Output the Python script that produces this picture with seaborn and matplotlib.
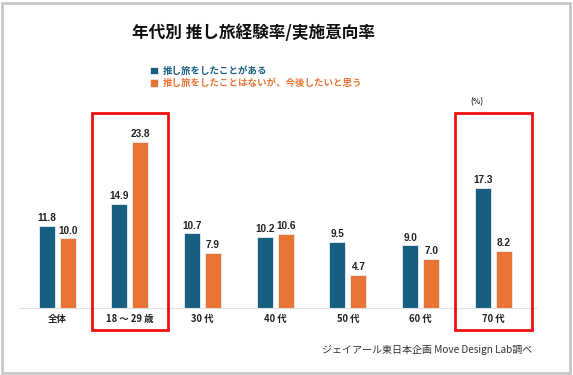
import matplotlib
matplotlib.use("Agg")
import matplotlib.pyplot as plt
import matplotlib.patches as mpatches
import seaborn as sns
import pandas as pd

categories = ["全体", "18 ～ 29 歳", "30 代", "40 代", "50 代", "60 代", "70 代"]
series_names = ["推し旅をしたことがある", "推し旅をしたことはないが、今後したいと思う"]
experienced = [11.8, 14.9, 10.7, 10.2, 9.5, 9.0, 17.3]
intention = [10.0, 23.8, 7.9, 10.6, 4.7, 7.0, 8.2]
highlight = ["18 ～ 29 歳", "70 代"]
colors = ["#175f80", "#e97534"]

df = pd.DataFrame({
    "cat": categories * 2,
    "series": [series_names[0]] * len(categories) + [series_names[1]] * len(categories),
    "value": experienced + intention,
})

sns.set_theme(style="white")
plt.rcParams["font.family"] = ["Noto Sans CJK JP", "DejaVu Sans"]

W, H = 573, 375
fig = plt.figure(figsize=(W / 100, H / 100), dpi=100)
fig.patch.set_facecolor("white")

# axes: x from 20px to 537px, baseline at 308px, top at 113px
ax = fig.add_axes([20 / W, (H - 308) / H, (537 - 20) / W, (308 - 113) / H])
sns.barplot(data=df, x="cat", y="value", hue="series", order=categories,
            hue_order=series_names, palette=colors, saturation=1,
            width=0.58, gap=0.24,
            edgecolor="#e8eef2", linewidth=0.6, ax=ax, legend=True)
ax.set_xlim(-0.51, 6.6)
ax.set_ylim(0, 28)
ax.set_xlabel("")
ax.set_ylabel("")
ax.set_yticks([])
for s in ["left", "right", "top"]:
    ax.spines[s].set_visible(False)
ax.spines["bottom"].set_color("#e0e0e0")
ax.spines["bottom"].set_linewidth(0.8)
ax.tick_params(axis="x", length=0, pad=4)
for t in ax.get_xticklabels():
    t.set_fontsize(6.8)
    t.set_fontweight("bold")
    t.set_color("#222222")

for cont in ax.containers:
    ax.bar_label(cont, fmt="%.1f", padding=2, fontsize=7.2, fontweight="bold",
                 color="#222222", family=["Liberation Sans", "DejaVu Sans"])

# legend
handles, labels = ax.get_legend_handles_labels()
ax.legend_.remove()
leg = fig.legend(handles, labels, loc="upper left",
                 bbox_to_anchor=(150 / W, 1 - 66 / H), frameon=False,
                 handlelength=0.85, handleheight=0.85,
                 handletextpad=0.5, labelspacing=0.25, borderpad=0,
                 borderaxespad=0, prop={"weight": "bold", "size": 6.8})
for txt, c in zip(leg.get_texts(), colors):
    txt.set_color(c)

# highlight boxes
for name in highlight:
    i = categories.index(name)
    rect = mpatches.Rectangle((i - 0.525, -3.15), 1.05, 31.15, fill=False,
                              edgecolor="#ee1111", linewidth=2.0,
                              clip_on=False, zorder=5)
    ax.add_patch(rect)

fig.text(253 / W, 1 - 33 / H, "年代別 推し旅経験率/実施意向率", ha="center",
         va="center", fontsize=12, fontweight="bold", color="#111111")
fig.text(477 / W, 1 - 102 / H, "(%)", ha="center", va="center",
         fontsize=5.5, fontweight="bold", color="#333333")
fig.text(532 / W, 1 - 350 / H, "ジェイアール東日本企画 Move Design Lab調べ",
         ha="right", va="center", fontsize=7.2, color="#333333")

# outer frame
fig.patches.append(mpatches.Rectangle((1.5 / W, 2.5 / H), 568 / W, 370 / H,
                                      transform=fig.transFigure, fill=False,
                                      edgecolor="#c8c8c8", linewidth=2.0))

fig.savefig("out.png", dpi=100)
